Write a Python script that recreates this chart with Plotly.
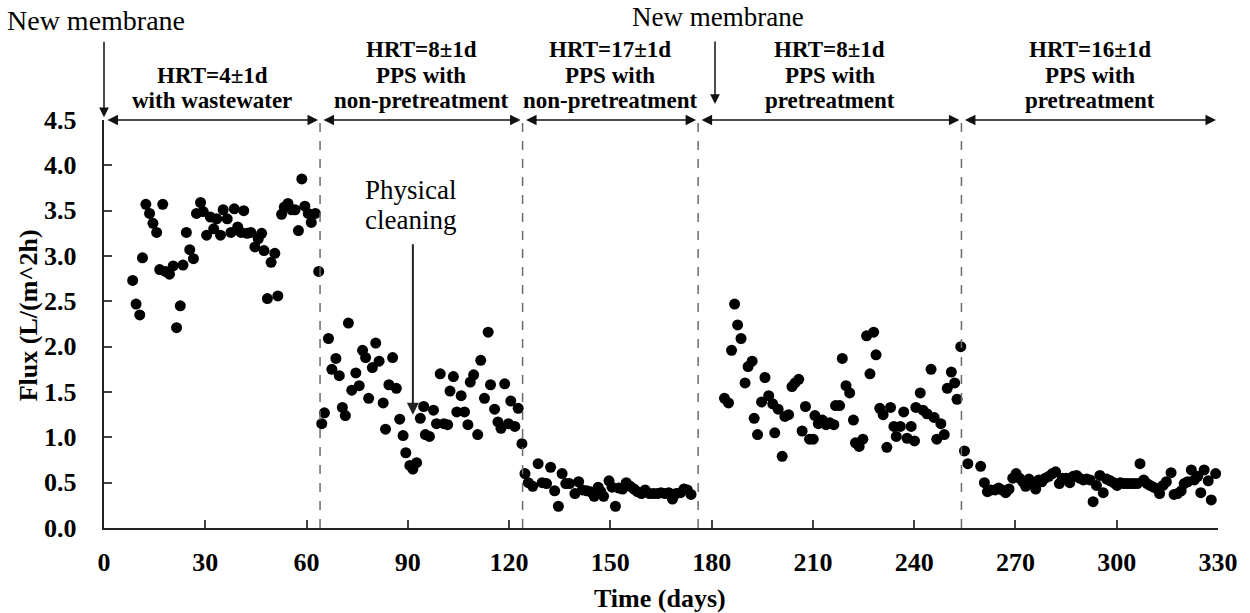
import plotly.graph_objects as go

# Flux readings per operating phase (day, L/(m^2 h))
day_p1 = [8.5, 9.5, 10.6, 11.4, 12.4, 13.5, 14.5, 15.6, 16.5, 17.4, 18.2, 19.4, 20.5, 21.5, 22.6,
          23.4, 24.4, 25.4, 26.5, 27.4, 28.6, 29.4, 30.4, 31.5, 32.5, 33.4, 34.5, 35.3, 36.5, 37.6,
          38.6, 39.6, 40.6, 41.4, 42.4, 43.5, 44.7, 45.7, 46.7, 47.4, 48.4, 49.5, 50.6, 51.5, 52.6,
          53.4, 54.5, 55.6, 56.6, 57.6, 58.6, 59.5, 60.5, 61.4, 62.6, 63.6]
flux_p1 = [2.73, 2.47, 2.35, 2.98, 3.57, 3.47, 3.36, 3.26, 2.85, 3.57, 2.83, 2.80, 2.89, 2.21, 2.45,
           2.90, 3.26, 3.07, 2.97, 3.47, 3.59, 3.49, 3.23, 3.43, 3.30, 3.41, 3.23, 3.51, 3.41, 3.26,
           3.52, 3.32, 3.26, 3.50, 3.25, 3.26, 3.10, 3.19, 3.25, 3.06, 2.53, 2.93, 3.03, 2.56, 3.46,
           3.54, 3.58, 3.51, 3.51, 3.28, 3.85, 3.55, 3.47, 3.37, 3.47, 2.83]

day_p2 = [64.5, 65.3, 66.5, 67.5, 68.7, 69.7, 70.6, 71.5, 72.4, 73.4, 74.6, 75.6, 76.6, 77.5, 78.4,
          79.5, 80.5, 81.5, 82.7, 83.4, 84.4, 85.5, 86.6, 87.6, 88.6, 89.4, 90.6, 91.5, 92.6, 93.7,
          94.7, 95.2, 96.4, 97.6, 98.5, 99.6, 100.7, 101.8, 102.5, 103.5, 104.5, 105.8, 106.8, 107.8,
          108.5, 109.5, 110.7, 111.6, 112.7, 113.8, 114.5, 115.7, 116.7, 117.6, 118.7, 119.8, 120.5,
          121.7, 122.7, 123.8]
flux_p2 = [1.15, 1.27, 2.09, 1.75, 1.87, 1.68, 1.33, 1.24, 2.26, 1.52, 1.71, 1.57, 1.96, 1.88, 1.43,
           1.77, 2.04, 1.84, 1.38, 1.09, 1.58, 1.88, 1.54, 1.20, 1.02, 0.83, 0.69, 0.65, 0.72, 1.21,
           1.34, 1.03, 1.01, 1.30, 1.15, 1.70, 1.15, 1.14, 1.51, 1.67, 1.28, 1.46, 1.28, 1.14,
           1.61, 1.69, 1.03, 1.85, 1.43, 2.16, 1.58, 1.31, 1.17, 1.10, 1.59, 1.15, 1.40,
           1.12, 1.32, 0.93]

day_p3 = [124.7, 125.7, 127.0, 128.6, 129.8, 131.1, 132.3, 133.5, 134.6, 135.7, 136.8, 137.9, 139.5,
          140.6, 141.7, 143.0, 144.1, 145.2, 146.4, 147.2, 148.0, 149.6, 150.5, 151.5, 152.5, 153.6,
          154.7, 155.9, 157.0, 158.0, 159.2, 160.3, 161.6, 162.8, 164.0, 165.0, 166.2, 167.3, 168.4,
          169.5, 170.8, 171.8, 172.8, 173.9]
flux_p3 = [0.60, 0.50, 0.46, 0.71, 0.50, 0.49, 0.67, 0.41, 0.24, 0.60, 0.49, 0.49, 0.38,
           0.51, 0.42, 0.41, 0.40, 0.35, 0.45, 0.40, 0.35, 0.52, 0.45, 0.24, 0.44, 0.43,
           0.50, 0.46, 0.43, 0.40, 0.38, 0.42, 0.38, 0.38, 0.38, 0.39, 0.38, 0.39, 0.32,
           0.38, 0.39, 0.43, 0.42, 0.37]

day_p4 = [183.8, 185.0, 185.9, 186.8, 187.7, 188.7, 189.9, 190.8, 192.0, 192.6, 193.6, 194.8, 195.8,
          196.9, 198.1, 198.7, 199.7, 200.9, 201.7, 202.8, 203.8, 204.7, 205.8, 206.8, 207.8, 209.0,
          210.1, 210.6, 211.6, 212.8, 213.9, 215.0, 216.2, 216.7, 217.9, 218.7, 219.8, 220.9, 222.0,
          222.6, 223.7, 224.8, 225.9, 226.9, 228.0, 228.7, 229.8, 230.8, 231.9, 233.0, 234.0, 234.7,
          235.9, 236.9, 237.9, 239.1, 240.1, 240.5, 241.8, 242.6, 243.8, 245.0, 245.9, 246.7, 247.9,
          248.9, 249.8, 251.0, 252.0, 252.7, 253.8]
flux_p4 = [1.43, 1.38, 1.96, 2.47, 2.24, 2.09, 1.60, 1.78, 1.84, 1.21, 1.03, 1.39, 1.66,
           1.46, 1.37, 1.05, 1.31, 0.79, 1.23, 1.25, 1.56, 1.60, 1.64, 1.07, 1.34, 0.98,
           0.98, 1.24, 1.15, 1.19, 1.14, 1.16, 1.14, 1.35, 1.35, 1.87, 1.57, 1.49, 1.19,
           0.94, 0.90, 0.98, 2.12, 1.70, 2.16, 1.91, 1.32, 1.25, 0.89, 1.33, 1.12, 1.01,
           1.12, 1.28, 0.99, 1.12, 0.96, 1.33, 1.49, 1.30, 1.26, 1.75, 1.22, 0.98, 1.15,
           1.03, 1.54, 1.72, 1.60, 1.42, 2.00]

day_p5 = [254.9, 255.9, 259.7, 260.8, 261.7, 262.8, 264.0, 265.0, 266.0, 267.1, 268.1, 269.2, 270.2,
          271.2, 272.2, 273.0, 274.0, 274.9, 276.0, 276.9, 277.8, 278.8, 279.9, 280.9, 281.9, 283.0,
          283.9, 285.1, 286.1, 287.1, 288.1, 289.0, 290.1, 291.1, 292.1, 293.0, 294.0, 295.0, 296.0,
          297.0, 298.1, 299.1, 300.1, 301.1, 302.1, 303.1, 304.1, 305.1, 306.1, 306.9, 308.0, 309.0,
          309.9, 310.9, 312.0, 312.7, 313.7, 314.7, 316.1, 317.0, 318.0, 319.1, 320.0, 321.0, 322.1,
          323.0, 324.0, 324.9, 325.9, 327.1, 328.0, 329.3]
flux_p5 = [0.85, 0.71, 0.68, 0.50, 0.40, 0.42, 0.42, 0.44, 0.42, 0.39, 0.43, 0.55, 0.60,
           0.55, 0.51, 0.46, 0.54, 0.49, 0.43, 0.53, 0.51, 0.55, 0.57, 0.60, 0.62, 0.49,
           0.55, 0.55, 0.50, 0.57, 0.58, 0.55, 0.53, 0.54, 0.53, 0.29, 0.47, 0.58, 0.39,
           0.54, 0.52, 0.50, 0.47, 0.50, 0.49, 0.49, 0.49, 0.49, 0.49, 0.71, 0.53, 0.49,
           0.47, 0.45, 0.43, 0.38, 0.47, 0.51, 0.61, 0.37, 0.38, 0.41, 0.49, 0.51, 0.64,
           0.53, 0.57, 0.39, 0.64, 0.52, 0.31, 0.60]

# Phase boundaries (days) and the label of each phase
boundaries = [0, 64, 124, 176, 254, 330]
phase_labels = [
    ["HRT=4±1d", "with wastewater"],
    ["HRT=8±1d", "PPS with", "non-pretreatment"],
    ["HRT=17±1d", "PPS with", "non-pretreatment"],
    ["HRT=8±1d", "PPS with", "pretreatment"],
    ["HRT=16±1d", "PPS with", "pretreatment"],
]
membrane_days = [0, 181]
cleaning_day = 91.5
cleaning_flux = 1.25

x_ticks = list(range(0, 331, 30))
y_ticks = [0.0, 0.5, 1.0, 1.5, 2.0, 2.5, 3.0, 3.5, 4.0, 4.5]
y_tick_labels = [f"{v:.1f}" for v in y_ticks]

days = day_p1 + day_p2 + day_p3 + day_p4 + day_p5
flux = flux_p1 + flux_p2 + flux_p3 + flux_p4 + flux_p5

SERIF = "Liberation Serif, Times New Roman, serif"
Y_TOP = 4.5

fig = go.Figure()
fig.add_trace(go.Scatter(
    x=days, y=flux, mode="markers",
    marker=dict(symbol="circle", size=11, color="black"),
    cliponaxis=False, hoverinfo="x+y",
))

shapes = []
annotations = []

# dashed separators between phases
for b in boundaries[1:-1]:
    shapes.append(dict(type="line", xref="x", yref="y", x0=b, x1=b, y0=0, y1=Y_TOP,
                       line=dict(color="#6b6b6b", width=1.5, dash="dash")))

# double-headed span arrows along the top of the plot
for i in range(len(boundaries) - 1):
    x0, x1 = boundaries[i], boundaries[i + 1]
    annotations.append(dict(
        x=x1, y=Y_TOP, ax=x0, ay=Y_TOP, xref="x", yref="y", axref="x", ayref="y",
        text="", showarrow=True, arrowhead=2, startarrowhead=2, arrowside="end+start",
        arrowsize=1.4, startarrowsize=1.4, arrowwidth=1.5, arrowcolor="#111",
        standoff=2, startstandoff=2,
    ))

# phase descriptions above the span arrows (one annotation per line)
line_rows = [1.1716, 1.109, 1.0466]
for i, lines in enumerate(phase_labels):
    xm = (boundaries[i] + boundaries[i + 1]) / 2
    rows = line_rows[-len(lines):]
    for txt, yy in zip(lines, rows):
        annotations.append(dict(
            x=xm, y=yy, xref="x", yref="paper", xanchor="center", yanchor="middle",
            text="<b>" + txt + "</b>", showarrow=False,
            font=dict(family=SERIF, size=23, color="black"),
        ))

# y tick labels, set back from the axis line
for v, lab in zip(y_ticks, y_tick_labels):
    annotations.append(dict(
        x=-0.0225, y=v, xref="paper", yref="y", xanchor="right", yanchor="middle",
        text="<b>" + lab + "</b>", showarrow=False,
        font=dict(family=SERIF, size=26, color="black"),
    ))

# "New membrane" markers
annotations.append(dict(
    x=membrane_days[0], y=1.007, xref="x", yref="paper", ax=0, ay=-77,
    text="", showarrow=True, arrowhead=2, arrowsize=1.3, arrowwidth=1.5, arrowcolor="#111",
))
annotations.append(dict(
    x=-0.0886, y=1.245, xref="paper", yref="paper", xanchor="left", yanchor="middle",
    text="New membrane", showarrow=False, font=dict(family=SERIF, size=28, color="black"),
))
annotations.append(dict(
    x=membrane_days[1], y=1.039, xref="x", yref="paper", ax=0, ay=-64,
    text="", showarrow=True, arrowhead=2, arrowsize=1.3, arrowwidth=1.5, arrowcolor="#111",
))
annotations.append(dict(
    x=membrane_days[1] + 0.8, y=1.2525, xref="x", yref="paper", xanchor="center", yanchor="middle",
    text="New membrane", showarrow=False, font=dict(family=SERIF, size=27, color="black"),
))

# physical cleaning event
annotations.append(dict(
    x=cleaning_day, y=cleaning_flux, xref="x", yref="y", ax=0, ay=-172,
    text="", showarrow=True, arrowhead=2, arrowsize=1.2, arrowwidth=2, arrowcolor="#222",
))
for txt, yy in [("Physical", 3.73), ("cleaning", 3.40)]:
    annotations.append(dict(
        x=cleaning_day - 0.6, y=yy, xref="x", yref="y", xanchor="center", yanchor="middle",
        text=txt, showarrow=False, font=dict(family=SERIF, size=27, color="black"),
    ))

# axis titles
annotations.append(dict(
    x=0.499, y=-0.1716, xref="paper", yref="paper", xanchor="center", yanchor="middle",
    text="<b>Time (days)</b>", showarrow=False, font=dict(family=SERIF, size=26, color="black"),
))
annotations.append(dict(
    x=-0.068, y=0.522, xref="paper", yref="paper", xanchor="center", yanchor="middle",
    text="<b>Flux (L/(m^2h)</b>", textangle=-90, showarrow=False,
    font=dict(family=SERIF, size=26, color="black"),
))

fig.update_layout(
    width=1250, height=613,
    margin=dict(l=104, r=28, t=120, b=85),
    plot_bgcolor="white", paper_bgcolor="white",
    showlegend=False,
    font=dict(family=SERIF, color="black"),
    shapes=shapes, annotations=annotations,
)
fig.update_xaxes(
    range=[0, 330], tickvals=x_ticks, ticktext=[str(v) for v in x_ticks],
    showline=True, linecolor="#222", linewidth=1.5, mirror=False,
    ticks="inside", ticklen=8, tickwidth=1.5, tickcolor="#444",
    showgrid=False, zeroline=False, ticklabelstandoff=10,
    tickfont=dict(family=SERIF, size=26, color="black", weight="bold"),
)
fig.update_yaxes(
    range=[0, 4.5], tickvals=y_ticks, showticklabels=False,
    showline=True, linecolor="#222", linewidth=1.5, mirror=False,
    ticks="inside", ticklen=8, tickwidth=1.5, tickcolor="#444",
    showgrid=False, zeroline=False,
)

fig.write_html("out.html")
